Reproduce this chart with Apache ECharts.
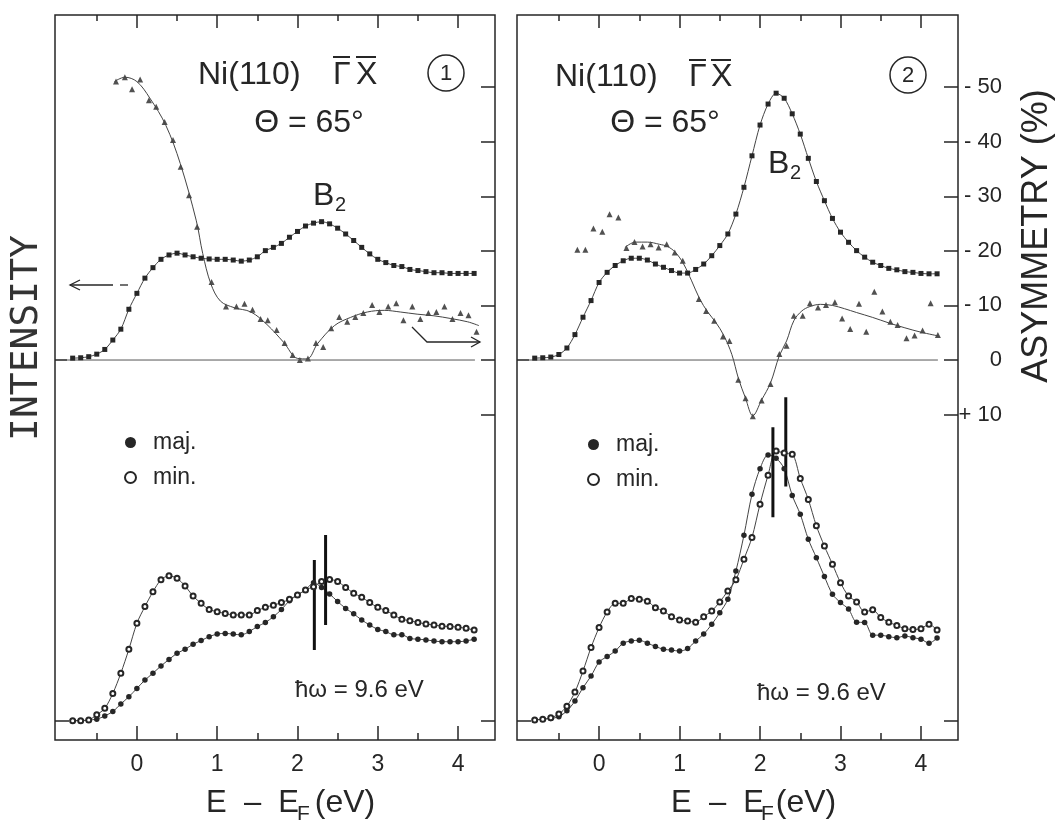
<!DOCTYPE html>
<html>
<head>
<meta charset="utf-8">
<title>Ni(110) - spin resolved spectra</title>
<script src="https://cdn.jsdelivr.net/npm/echarts@6/dist/echarts.min.js"></script>
<style>
html, body { margin: 0; padding: 0; background: #fff; }
#chart { width: 1055px; height: 823px; }
</style>
</head>
<body>
<div id="chart"></div>
<script>
// DATA

// energy grid E - E_F (eV) of the measured spectra
var energy = [-0.8, -0.7, -0.6, -0.5, -0.4, -0.3, -0.2, -0.1, 0, 0.1, 0.2, 0.3, 0.4, 0.5, 0.6, 0.7, 0.8, 0.9, 1, 1.1,
	1.2, 1.3, 1.4, 1.5, 1.6, 1.7, 1.8, 1.9, 2, 2.1, 2.2, 2.3, 2.4, 2.5, 2.6, 2.7, 2.8, 2.9, 3, 3.1,
	3.2, 3.3, 3.4, 3.5, 3.6, 3.7, 3.8, 3.9, 4, 4.1, 4.2];

var majorTicks = [0, 1, 2, 3, 4];
var minorTicks = [-0.5, 0.5, 1.5, 2.5, 3.5];
var asymTicks = [-50, -40, -30, -20, -10, 0, 10];

// panel 1
var total1 = [0.5, 0.6, 0.9, 1.6, 2.9, 5.5, 8.5, 14.0, 18.4, 22.6, 25.5, 27.8, 29.0, 29.5, 29.0, 28.5, 28.1, 27.9, 27.8, 27.8,
	27.6, 27.3, 27.6, 28.5, 30.2, 31.1, 32.2, 33.9, 35.5, 37.0, 37.8, 38.2, 37.6, 36.4, 34.8, 33.0, 31.1, 29.3, 27.8, 26.9,
	26.1, 25.8, 25.0, 24.7, 24.4, 24.1, 24.1, 23.9, 23.9, 23.9, 23.9];
var maj1 = [0.1, 0.1, 0.3, 0.5, 1.4, 2.6, 4.7, 6.7, 9.0, 11.3, 13.2, 15.2, 17.0, 18.7, 19.8, 21.2, 22.2, 23.3, 24.0, 24.2,
	24.0, 23.8, 24.7, 26.1, 27.2, 28.8, 30.8, 33.2, 34.8, 36.2, 38.2, 36.9, 35.1, 33.0, 31.1, 29.6, 27.9, 26.5, 25.3, 24.7,
	23.8, 23.8, 22.8, 22.6, 22.4, 22.1, 21.9, 21.9, 21.9, 22.1, 22.6];
var min1 = [0.1, 0.1, 0.3, 1.7, 3.5, 7.6, 13.2, 19.8, 27.0, 31.6, 35.7, 39.0, 40.1, 39.4, 37.3, 34.5, 32.5, 30.8, 30.2, 29.7,
	29.3, 29.3, 29.3, 30.5, 31.4, 32.0, 32.7, 33.6, 34.8, 36.2, 37.1, 38.5, 39.1, 38.5, 36.9, 35.3, 34.2, 32.7, 31.4, 30.5,
	29.3, 28.1, 27.7, 27.2, 26.8, 26.5, 26.2, 26.1, 25.9, 25.6, 25.1];
var asymE1 = [-0.26, -0.15, -0.06, 0.04, 0.15, 0.24, 0.345, 0.45, 0.545, 0.65, 0.75, 0.93, 1.11, 1.24, 1.34,
	1.44, 1.54, 1.63, 1.74, 1.84, 1.94, 2.03, 2.13, 2.23, 2.32, 2.42, 2.52, 2.62, 2.72, 2.82,
	2.93, 3.02, 3.13, 3.23, 3.32, 3.43, 3.53, 3.63, 3.73, 3.83, 3.93, 4.03, 4.13, 4.23];
var asym1 = [-51, -51.8, -49.6, -51.4, -47.6, -46.4, -43.6, -40.3, -35.4, -30.2, -24.4, -14.3, -9.8, -9.8, -10.3,
	-9.2, -7.5, -7.3, -5.5, -3.1, -0.9, 0, -0.3, -3.1, -2.4, -5.8, -7.9, -7, -7.9, -8.6,
	-10.1, -8.8, -9.8, -10.4, -7.3, -9.8, -7.5, -8.6, -8.8, -9.8, -7.5, -8.6, -8.2, -5.2];
var fitE1 = [-0.28, -0.15, 0.0, 0.16, 0.36, 0.54, 0.74, 0.82, 0.92, 1.04, 1.21, 1.42, 1.62, 1.83, 2.0,
	2.12, 2.25, 2.46, 2.66, 2.87, 3.08, 3.28, 3.49, 3.70, 3.91, 4.12, 4.26];
var fitA1 = [-51, -51.8, -51, -48, -43, -36, -25.5, -19.5, -14, -10.8, -9.6, -8.8, -6.5, -3.2, -0.3,
	-0.2, -3, -6.3, -7.8, -8.8, -9.1, -8.8, -8.4, -8.1, -7.6, -7.0, -6.3];
// peak positions maj / min: [E, low, high]
var peaks1 = [[2.21, 19.6, 44.5], [2.35, 26.5, 51.4]];

// panel 2
var total2 = [0.5, 0.6, 0.8, 1.5, 3.3, 7.0, 11.8, 16.4, 21.4, 24.2, 26.1, 27.4, 28.1, 28.1, 27.6, 26.5, 25.6, 24.7, 24.0, 24.0,
	25.0, 26.5, 28.8, 31.6, 34.8, 40.3, 47.7, 56.4, 64.9, 70.7, 73.7, 72.3, 68.0, 62.4, 55.7, 49.3, 44.0, 39.1, 35.3, 32.5,
	30.2, 28.4, 27.0, 26.1, 25.3, 24.9, 24.4, 24.2, 23.9, 23.8, 23.8];
var maj2 = [0.3, 0.5, 0.7, 1.2, 2.8, 5.5, 9.2, 12.4, 16.3, 17.8, 19.3, 21.5, 22.1, 22.3, 21.5, 20.6, 19.8, 19.6, 19.3, 20.0,
	22.1, 24.0, 26.7, 29.9, 33.6, 41.4, 51.3, 62.6, 69.7, 73.5, 72.6, 69.7, 62.3, 57.1, 50.2, 45.1, 39.9, 35.0, 32.7, 30.9,
	27.3, 27.2, 23.7, 23.7, 23.3, 23.0, 23.5, 23.0, 22.6, 21.5, 22.9];
var min2 = [0.3, 0.5, 0.9, 1.9, 4.1, 8.0, 13.8, 20.3, 25.8, 30.1, 32.5, 32.5, 33.8, 33.6, 33.1, 31.3, 30.4, 28.8, 27.9, 27.6,
	27.3, 28.8, 30.4, 32.9, 35.9, 39.0, 44.7, 50.7, 59.9, 67.9, 74.6, 74.0, 73.7, 67.0, 61.2, 53.9, 48.3, 43.3, 38.2, 34.5,
	32.9, 30.1, 30.7, 28.6, 27.3, 26.4, 25.5, 25.3, 25.5, 26.7, 25.1];
var asymE2 = [-0.27, -0.17, -0.07, 0.04, 0.13, 0.24, 0.34, 0.44, 0.54, 0.64, 0.74, 0.84, 0.94, 1.04, 1.24,
	1.33, 1.43, 1.54, 1.62, 1.73, 1.82, 1.91, 2.02, 2.13, 2.24, 2.33, 2.42, 2.53, 2.62, 2.72,
	2.82, 2.93, 3.02, 3.12, 3.23, 3.32, 3.42, 3.52, 3.62, 3.71, 3.82, 3.92, 4.02, 4.12, 4.21];
var asym2 = [-20.2, -20.2, -24.1, -23.5, -26.7, -26.1, -20.5, -21.6, -20.8, -21.2, -20.6, -21.2, -19.7, -18.2, -11.2,
	-9.0, -7.2, -4.3, -3.5, 3.6, 7.0, 10.3, 7.4, 4.4, -1.1, -2.6, -8.1, -8.1, -10.4, -9.6,
	-10.1, -10.6, -7.6, -5.7, -10.3, -5.2, -12.5, -8.9, -7.0, -6.4, -4.0, -4.5, -5.4, -10.4, -4.6];
var fitE2 = [0.32, 0.45, 0.6, 0.75, 0.85, 0.95, 1.05, 1.15, 1.25, 1.35, 1.45, 1.55, 1.65, 1.73, 1.82, 1.91,
	2.02, 2.13, 2.24, 2.33, 2.42, 2.52, 2.62, 2.75, 2.9, 3.05, 3.2, 3.4, 3.6, 3.8, 4.0, 4.22];
var fitA2 = [-20.6, -21.6, -21.6, -21.2, -20.8, -19.7, -17.6, -14.5, -11.2, -8.8, -6.9, -4.5, -1.0, 3.3, 7.0, 10.2,
	7.3, 4.2, -0.8, -3.5, -7.2, -9.0, -9.8, -10.2, -10.0, -9.4, -8.7, -7.8, -6.8, -5.9, -5.1, -4.4];
var peaks2 = [[2.16, 56.3, 81.1], [2.32, 64.8, 89.4]];

// STYLE
var INK = '#262626';
var FONT = '"Liberation Sans", Arial, sans-serif';
var X_MIN = -1.02, X_MAX = 4.46;
var ASYM_MIN = -63.2, ASYM_MAX = 69.6;   // asymmetry (%), negative values upwards
var TOP_MIN = -105, TOP_MAX = 95.3;      // spin integrated intensity
var LOW_MIN = -5.25, LOW_MAX = 195;      // partial intensities

function pairs(xs, ys) {
	return xs.map(function (x, i) { return [x, ys[i]]; });
}

function tick(values, len) {
	return { show: true, inside: true, length: len, customValues: values, lineStyle: { color: INK, width: 1.5 } };
}

function xAxes(g) {
	var list = [
		['bottom', majorTicks, 14, true],
		['bottom', minorTicks, 7, false],
		['top', majorTicks, 13, false],
		['top', minorTicks, 6, false]
	];
	return list.map(function (d) {
		return {
			gridIndex: g, type: 'value', min: X_MIN, max: X_MAX, position: d[0],
			splitLine: { show: false },
			axisLine: { show: false, onZero: false },
			axisTick: tick(d[1], d[2]),
			axisLabel: d[3] ? { customValues: majorTicks, fontSize: 23, color: INK, fontFamily: FONT, margin: 13 } : { show: false }
		};
	});
}

function yAxes(g, withLabels) {
	var base = { gridIndex: g, type: 'value', splitLine: { show: false }, axisLine: { show: false, onZero: false } };
	return [
		Object.assign({}, base, {
			position: 'right', inverse: true, min: ASYM_MIN, max: ASYM_MAX,
			axisTick: tick(asymTicks, 14),
			axisLabel: withLabels ? {
				customValues: asymTicks, fontSize: 22, color: INK, fontFamily: FONT, align: 'right', margin: 44,
				formatter: function (v) {
					if (v < 0) return '- ' + (-v);
					if (v > 0) return '+ ' + v;
					return '0';
				}
			} : { show: false }
		}),
		Object.assign({}, base, { position: 'left', min: TOP_MIN, max: TOP_MAX, axisTick: tick([0], 12), axisLabel: { show: false } }),
		Object.assign({}, base, { position: 'left', min: LOW_MIN, max: LOW_MAX, axisTick: tick([0], 14), axisLabel: { show: false } }),
		Object.assign({}, base, { position: 'right', min: LOW_MIN, max: LOW_MAX, axisTick: tick([0], 14), axisLabel: { show: false } })
	];
}

function panelSeries(p, total, maj, min, aE, aV, fE, fV, peaks) {
	var xi = p * 4, yi = p * 4;
	var s = [
		{ type: 'line', xAxisIndex: xi, yAxisIndex: yi, data: [[-1.0, 0], [4.21, 0]], symbol: 'none',
			lineStyle: { color: '#555', width: 1 } },
		{ type: 'line', xAxisIndex: xi, yAxisIndex: yi + 1, data: pairs(energy, total), smooth: 0.3,
			symbol: 'rect', symbolSize: 5, itemStyle: { color: INK }, lineStyle: { color: '#444', width: 1 } },
		{ type: 'line', xAxisIndex: xi, yAxisIndex: yi, data: pairs(fE, fV), smooth: 0.35, symbol: 'none',
			lineStyle: { color: '#444', width: 1 } },
		{ type: 'scatter', xAxisIndex: xi, yAxisIndex: yi, data: pairs(aE, aV), symbol: 'triangle', symbolSize: 6,
			itemStyle: { color: INK } },
		{ name: 'maj.', type: 'line', xAxisIndex: xi, yAxisIndex: yi + 2, data: pairs(energy, maj), smooth: 0.3,
			symbol: 'circle', symbolSize: 5.5, itemStyle: { color: INK }, lineStyle: { color: '#444', width: 1 } },
		{ name: 'min.', type: 'line', xAxisIndex: xi, yAxisIndex: yi + 2, data: pairs(energy, min), smooth: 0.3,
			symbol: 'emptyCircle', symbolSize: 5, itemStyle: { color: INK, borderWidth: 0.9 }, lineStyle: { color: '#444', width: 1 } }
	];
	peaks.forEach(function (pk) {
		s.push({ type: 'line', xAxisIndex: xi, yAxisIndex: yi + 2, data: [[pk[0], pk[1]], [pk[0], pk[2]]],
			symbol: 'none', lineStyle: { color: '#111', width: 3 } });
	});
	return s;
}

function txt(x, y, s, size, align, family) {
	return { type: 'text', x: x, y: y, silent: true,
		style: { text: s, fontSize: size, fontFamily: family || FONT, fill: INK, align: align || 'left', verticalAlign: 'middle' } };
}

function seg(points, width) {
	return { type: 'polyline', silent: true, shape: { points: points },
		style: { stroke: INK, lineWidth: width || 1.3, fill: null } };
}

function ring(cx, cy, label) {
	return [
		{ type: 'circle', silent: true, shape: { cx: cx, cy: cy, r: 18 }, style: { fill: null, stroke: INK, lineWidth: 1.5 } },
		txt(cx, cy + 1, label, 22, 'center')
	];
}

function legendAt(left, top) {
	return {
		left: left, top: top, orient: 'vertical', selectedMode: false, padding: 0,
		itemWidth: 11, itemHeight: 11, itemGap: 12,
		data: [{ name: 'maj.', icon: 'circle' }, { name: 'min.', icon: 'emptyCircle' }],
		textStyle: { fontSize: 23, color: INK, fontFamily: FONT, lineHeight: 22, padding: [0, 0, 0, 12] }
	};
}

var graphics = [
	// panel 1 labels
	txt(198, 75, 'Ni(110)', 32), txt(333, 75, 'Γ', 32), txt(356, 75, 'X', 32),
	seg([[333, 57], [350, 57]], 2), seg([[356, 57], [376, 57]], 2),
	txt(309, 123, 'Θ = 65°', 32, 'center'),
	txt(313, 196, 'B', 32), txt(335, 205, '2', 20),
	txt(295, 690, 'ħω = 9.6 eV', 24),
	seg([[113, 285], [70, 285]]), seg([[120, 285], [128, 285]]), seg([[80, 280], [70, 285], [80, 290]]),
	seg([[412, 327], [427, 342], [480, 342]]), seg([[471, 337], [480, 342], [471, 347]]),
	// panel 2 labels
	txt(555, 77, 'Ni(110)', 32), txt(689, 77, 'Γ', 32), txt(711, 77, 'X', 32),
	seg([[689, 60], [706, 60]], 2), seg([[711, 60], [731, 60]], 2),
	txt(665, 123, 'Θ = 65°', 32, 'center'),
	txt(768, 164, 'B', 32), txt(790, 173, '2', 20),
	txt(757, 693, 'ħω = 9.6 eV', 24),
	// axis titles
	txt(206, 803, 'E  –  E', 31), txt(297, 814, 'F', 21), txt(345, 803, '(eV)', 32, 'center'),
	txt(671, 803, 'E  –  E', 31), txt(761, 814, 'F', 21), txt(806, 803, '(eV)', 32, 'center'),
	{ type: 'text', x: 27, y: 338, rotation: Math.PI / 2, silent: true,
		style: { text: 'INTENSITY', fontSize: 38, fontFamily: '"DejaVu Sans Mono", monospace', fill: '#333', align: 'center', verticalAlign: 'middle' } },
	{ type: 'text', x: 1037, y: 236, rotation: Math.PI / 2, silent: true,
		style: { text: 'ASYMMETRY (%)', fontSize: 36, fontFamily: FONT, fill: INK, align: 'center', verticalAlign: 'middle' } }
].concat(ring(446, 73, '1'), ring(908, 75, '2'));

var chart = echarts.init(document.getElementById('chart'), null, { renderer: 'canvas' });
chart.setOption({
	backgroundColor: '#fff',
	animation: false,
	grid: [
		{ left: 55, top: 15, width: 440, height: 725, show: true, borderColor: INK, borderWidth: 1.5, containLabel: false, outerBoundsMode: 'none' },
		{ left: 517, top: 15, width: 441, height: 725, show: true, borderColor: INK, borderWidth: 1.5, containLabel: false, outerBoundsMode: 'none' }
	],
	legend: [legendAt(124, 431), legendAt(587, 433)],
	xAxis: xAxes(0).concat(xAxes(1)),
	yAxis: yAxes(0, false).concat(yAxes(1, true)),
	series: panelSeries(0, total1, maj1, min1, asymE1, asym1, fitE1, fitA1, peaks1)
		.concat(panelSeries(1, total2, maj2, min2, asymE2, asym2, fitE2, fitA2, peaks2)),
	graphic: graphics
});
</script>
</body>
</html>
